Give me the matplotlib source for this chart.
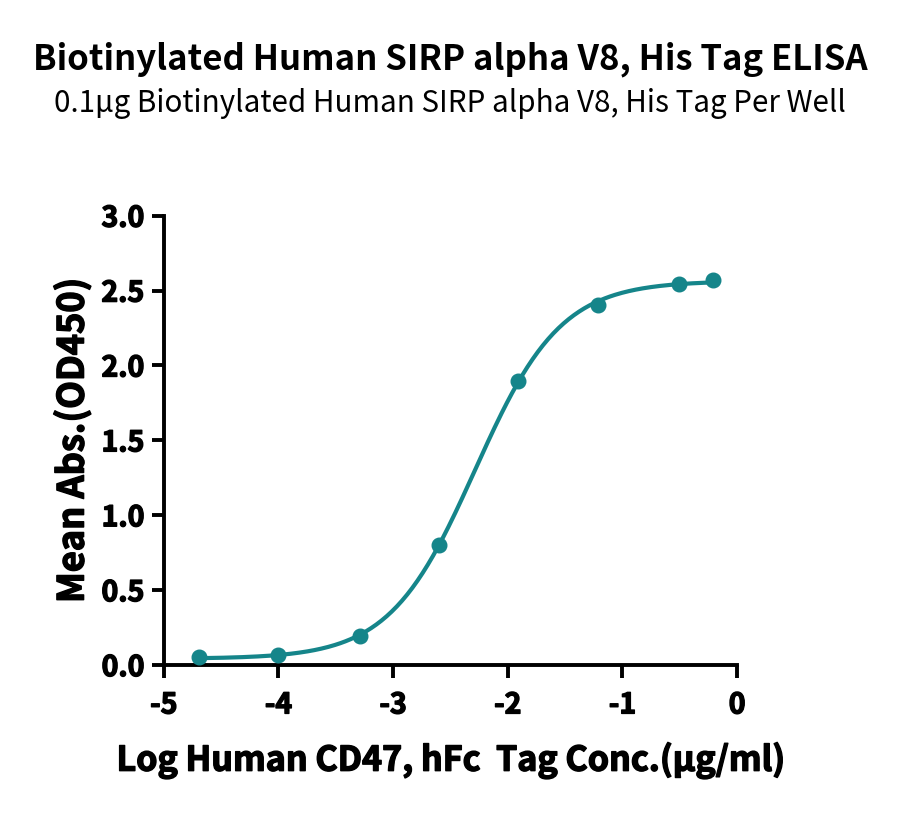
import matplotlib
matplotlib.use("Agg")
import matplotlib.pyplot as plt
import matplotlib.patheffects as pe
import numpy as np

# data
log_conc = [-4.69, -4.00, -3.29, -2.60, -1.91, -1.21, -0.51, -0.21]
mean_abs = [0.053, 0.067, 0.194, 0.80, 1.897, 2.405, 2.545, 2.57]

title = "Biotinylated Human SIRP alpha V8, His Tag ELISA"
subtitle = "0.1\u03bcg Biotinylated Human SIRP alpha V8, His Tag Per Well"
xlabel = "Log Human CD47, hFc  Tag Conc.(\u03bcg/ml)"
ylabel = "Mean Abs.(OD450)"
color = "#15858a"

plt.rcParams['font.family'] = ['Noto Sans CJK SC', 'DejaVu Sans']

x = np.array(log_conc)
y = np.array(mean_abs)


def fourpl(p, t):
    bot, top, ec, hill = p
    return bot + (top - bot) / (1 + 10 ** ((ec - t) * hill))


# simple Levenberg-Marquardt fit of the 4PL curve
p = np.array([0.05, 2.6, -2.4, 1.0])
lam = 1e-3
for i in range(500):
    r = y - fourpl(p, x)
    J = np.zeros((len(x), 4))
    for k in range(4):
        dp = np.zeros(4)
        dp[k] = 1e-6
        J[:, k] = (fourpl(p + dp, x) - fourpl(p, x)) / 1e-6
    A = J.T @ J
    step = np.linalg.solve(A + lam * np.diag(np.diag(A)), J.T @ r)
    pn = p + step
    if np.sum((y - fourpl(pn, x)) ** 2) < np.sum(r ** 2):
        p = pn
        lam *= 0.5
    else:
        lam *= 2

xs = np.linspace(x.min(), x.max(), 300)

# heavier look for the axis texts
thick = [pe.withStroke(linewidth=1.0, foreground='black')]

fig = plt.figure(figsize=(9, 8.14), dpi=100)
ax = fig.add_axes([0.182, 0.183, 0.637, 0.552])
ax.plot(xs, fourpl(p, xs), color=color, lw=3, zorder=3)
ax.plot(x, y, 'o', color=color, ms=10.5, zorder=4, clip_on=False)

ax.set_xlim(-5, 0)
ax.set_ylim(0, 3.0)
ax.set_xticks([-5, -4, -3, -2, -1, 0])
ax.set_xticklabels(["-5", "-4", "-3", "-2", "-1", "0"])
ax.set_yticks([0, 0.5, 1.0, 1.5, 2.0, 2.5, 3.0])
ax.set_yticklabels(["0.0", "0.5", "1.0", "1.5", "2.0", "2.5", "3.0"])
for s in ['top', 'right']:
    ax.spines[s].set_visible(False)
for s in ['left', 'bottom']:
    ax.spines[s].set_linewidth(2.8)
ax.tick_params(width=2.8, length=9, labelsize=20.5, pad=5)
for lab in ax.get_xticklabels() + ax.get_yticklabels():
    lab.set_fontweight('bold')
    lab.set_path_effects(thick)
ax.tick_params(axis='x', pad=10)

ax.set_xlabel(xlabel, fontsize=24.5, fontweight='bold', labelpad=16, path_effects=thick)
ax.set_ylabel(ylabel, fontsize=26, fontweight='bold', labelpad=7, path_effects=thick)

fig.text(0.5, 0.927, title, ha='center', va='center', fontsize=25, fontweight='bold')
fig.text(0.5, 0.873, subtitle, ha='center', va='center', fontsize=21.3)

fig.savefig("out.png", dpi=100)
